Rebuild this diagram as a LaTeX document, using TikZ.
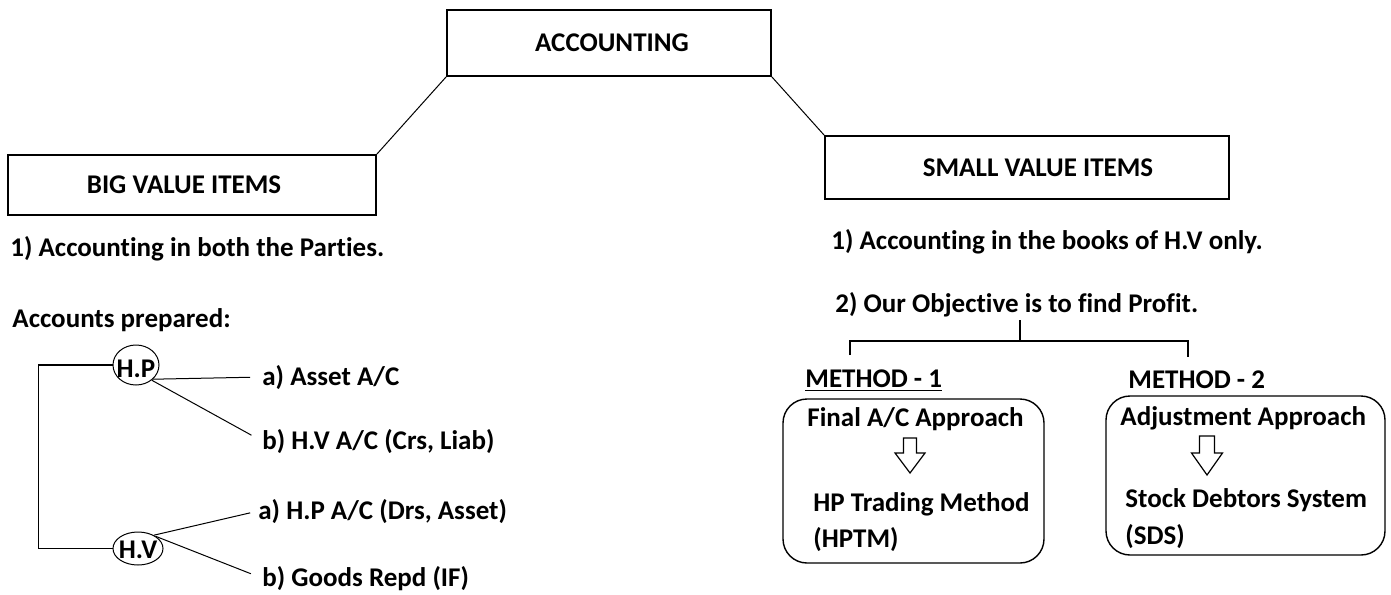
\documentclass[tikz,border=0pt]{standalone}
\usepackage{fontspec}
\setmainfont{Carlito}[Ligatures=CommonOff]
\usetikzlibrary{shapes.geometric}
\begin{document}
\begin{tikzpicture}[x=0.5pt,y=-0.5pt,
  every node/.style={font=\fontsize{13.5}{16}\selectfont\bfseries},
  box/.style={draw, line width=0.85pt, rectangle, inner sep=0pt},
  txt/.style={inner sep=0pt, anchor=base west},
  link/.style={line width=0.5pt},
  bracket/.style={line width=0.75pt},
  party/.style={draw, ellipse, line width=0.5pt, inner sep=-4pt},
  panel/.style={draw, line width=0.7pt, rounded corners=12pt, inner sep=0pt},
  hollow/.style={draw, line width=0.6pt, line join=miter}
]
\useasboundingbox (0,0) rectangle (1391,594);

% top level boxes
\node[box, minimum width=162pt, minimum height=33pt] (acc) at (609,43) {\mbox{}\hspace{3pt}ACCOUNTING};
\node[box, minimum width=184pt, minimum height=30pt] (big) at (192,185) {BIG VALUE ITEMS\hspace{8pt}\mbox{}};
\node[box, minimum width=202pt, minimum height=31.5pt] (small) at (1027,167.5) {\mbox{}\hspace{11pt}SMALL VALUE ITEMS};
\draw[link] (acc.south west) -- (big.north east);
\draw[link] (acc.south east) -- (small.north west);

% big value items
\node[txt] (bv1) at (10,256) {1) Accounting in both the Parties.};
\node[txt] (accp) at (12,327) {Accounts prepared:};
% the two parties, ringed by ellipses (text height lowers the label a little)
\node[party, minimum width=23pt, minimum height=20pt, text height=12.5pt, text depth=0pt] (hp) at (136,365) {H.P};
\node[party, minimum width=25pt, minimum height=16.5pt, text height=9.5pt, text depth=0pt] (hv) at (138,548.5) {H.V};
\draw[bracket] (hp.west) -- ++(-74,0) |- (hv.west);

\node[txt] (hpa) at (262,385) {a) Asset A/C};
\node[txt] (hpb) at (262,449) {b) H.V A/C (Crs, Liab)};
\node[txt] (hva) at (258,519) {a) H.P A/C (Drs, Asset)};
\node[txt] (hvb) at (262,586) {b) Goods Repd (IF)};
\draw[link, shorten >=6pt] (hp.-40) -- (hpa.west);
\draw[link, shorten >=6pt] (hp.-44) -- (hpb.west);
\draw[link, shorten >=4pt] (hv.40) -- (hva.west);
\draw[link, shorten >=6pt] (hv.34) -- (hvb.west);

% small value items
\node[txt] (sv1) at (831,249) {1) Accounting in the books of H.V only.};
\node[txt] (sv2) at (835,312) {2) Our Objective is to find Profit.};
\coordinate (split) at (1020,341);
\node[txt] (m1) at (805,387) {\underline{METHOD - 1}};
\node[txt] (m2) at (1128,388) {METHOD - 2};
\draw[bracket] (1020,320) -- (split);
\draw[bracket] (850,355) |- (split) -| (1188,357);

% method panels
\node[panel, minimum width=130.5pt, minimum height=82pt] (p1) at (913.5,481) {};
\node[panel, minimum width=139.5pt, minimum height=79.5pt] (p2) at (1245.5,475.5) {};

\node[txt] (fa) at (807,426) {Final A/C Approach};
\coordinate (t1) at (910,473);
\draw[hollow] (t1) -- ++(15,-20) -- ++(-8.5,0) -- ++(0,-15) -- ++(-13,0)
  -- ++(0,15) -- ++(-8.5,0) -- cycle;
\node[txt] (hpt) at (813,511) {HP Trading Method};
\node[txt] (hpt2) at (813,547) {(HPTM)};

\node[txt] (aa) at (1120,425) {Adjustment Approach};
\coordinate (t2) at (1207,475);
\draw[hollow] (t2) -- ++(15.5,-22) -- ++(-8,0) -- ++(0,-17) -- ++(-15,0)
  -- ++(0,17) -- ++(-8,0) -- cycle;
\node[txt] (sds) at (1125,507) {Stock Debtors System};
\node[txt] (sds2) at (1125,544) {(SDS)};
\end{tikzpicture}
\end{document}
